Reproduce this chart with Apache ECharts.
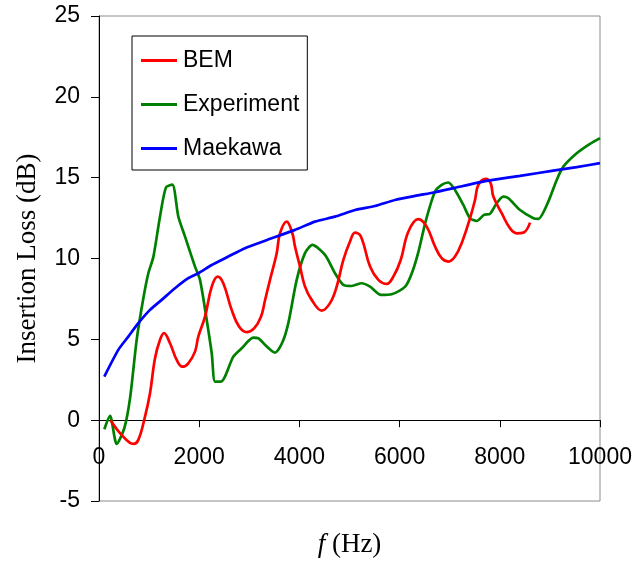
<!DOCTYPE html>
<html>
<head>
<meta charset="utf-8">
<script src="https://cdn.jsdelivr.net/npm/echarts@6/dist/echarts.min.js"></script>
<style>
html,body{margin:0;padding:0;background:#fff;}
#chart{width:635px;height:562px;}
</style>
</head>
<body>
<div id="chart"></div>
<script>
// Frequency (Hz) and insertion loss (dB) for each series
const bemFreq = [230,453,685,785,918,1018,1118,1218,1297,1417,1551,1663,1783,1916,1982,2116,2250,2369,2481,2648,2795,2948,3100,3233,3313,3413,3547,3613,3746,3859,3912,4012,4112,4245,4445,4611,4744,4877,5010,5110,5229,5410,5576,5743,5875,6022,6174,6374,6541,6707,6840,6972,7106,7239,7405,7505,7571,7718,7818,7871,8038,8204,8337,8471,8604];
const bemIL   = [0,-0.91,-1.47,-1.22,0.22,1.67,3.83,4.97,5.38,4.76,3.73,3.31,3.52,4.24,5.17,6.4,8.26,8.88,8.47,6.82,5.79,5.44,5.69,6.4,7.4,8.68,10.33,11.56,12.28,11.56,10.74,9.5,8.26,7.44,6.78,7.24,8.26,9.91,11.05,11.6,11.35,9.5,8.68,8.43,8.88,9.91,11.66,12.43,11.97,10.74,10.02,9.81,10.12,10.95,12.49,13.62,14.55,14.92,14.65,13.83,12.8,11.87,11.56,11.6,12.22];

const expFreq = [106,220,353,505,620,752,885,985,1085,1218,1337,1464,1583,1717,1916,2016,2150,2250,2316,2436,2681,2848,3080,3180,3313,3513,3659,3779,3946,4112,4258,4511,4711,4877,5044,5243,5410,5629,5842,6111,6244,6377,6520,6707,6840,6972,7106,7272,7405,7539,7685,7805,7938,8071,8171,8405,8671,8769,8968,9136,9268,9535,9800,10000];
const expIL   = [-0.56,0.27,-1.47,-0.5,1.36,4.97,7.54,9.09,10.1,12.6,14.4,14.57,12.6,11.35,9.5,8.68,6.2,4.14,2.39,2.39,3.93,4.45,5.1,5.07,4.66,4.18,4.8,6.0,8.68,10.33,10.84,10.22,9.09,8.37,8.3,8.47,8.26,7.75,7.79,8.26,9.09,10.43,12.3,14.14,14.55,14.7,14.24,13.31,12.49,12.32,12.7,12.76,13.42,13.83,13.73,13.0,12.49,12.45,13.52,14.86,15.68,16.51,17.09,17.45];

const maeFreq = [106,385,585,785,1018,1251,1517,1783,1982,2250,2581,2914,3313,3912,4311,4711,5110,5509,5908,6307,6707,7072,7738,8405,9069,9535,10000];
const maeIL   = [2.7,4.35,5.17,6.0,6.82,7.44,8.16,8.78,9.09,9.6,10.12,10.64,11.1,11.77,12.28,12.59,13.0,13.25,13.62,13.87,14.1,14.35,14.8,15.11,15.44,15.65,15.9];

const seriesNames = ['BEM','Experiment','Maekawa'];
const xTicks = {min:0, max:10000, interval:2000};
const yTicks = {min:-5, max:25, interval:5};

function zip(a,b){return a.map((v,i)=>[v,b[i]]);}

const sans = 'Liberation Sans, Arial, sans-serif';
const serif = 'Liberation Serif, Times New Roman, serif';

const chart = echarts.init(document.getElementById('chart'), null, {renderer:'canvas'});
chart.setOption({
  animation:false,
  backgroundColor:'#fff',
  grid:{left:99, right:35, top:16, bottom:61, show:true, borderColor:'#8c8c8c', borderWidth:1,
        backgroundColor:'transparent', containLabel:false, outerBoundsMode:'none'},
  legend:{
    orient:'vertical', left:132, top:36,
    data:seriesNames,
    itemWidth:36, itemHeight:14, itemGap:21,
    padding:[13,8,10,9],
    borderColor:'#000', borderWidth:1, backgroundColor:'#fff',
    textStyle:{fontFamily:sans, fontSize:23, color:'#000', padding:[0,0,0,1]},
    icon:'path://M0,5.5 L36,5.5 L36,8.5 L0,8.5 Z'
  },
  xAxis:{
    type:'value', min:xTicks.min, max:xTicks.max, interval:xTicks.interval,
    axisLine:{onZero:true, lineStyle:{color:'#000', width:1}},
    axisTick:{show:true, length:7, lineStyle:{color:'#000'}},
    axisLabel:{fontFamily:sans, fontSize:23, color:'#000', margin:-55, formatter:v=>String(v)},
    splitLine:{show:false},
    name:'{i|f} (Hz)', nameLocation:'middle', nameGap:30, nameMoveOverlap:false,
    nameTextStyle:{fontFamily:serif, fontSize:27, color:'#000',
      rich:{i:{fontFamily:serif, fontStyle:'italic', fontSize:27, color:'#000'}}}
  },
  yAxis:{
    type:'value', min:yTicks.min, max:yTicks.max, interval:yTicks.interval,
    axisLine:{show:true, lineStyle:{color:'#000', width:1}},
    axisTick:{show:true, length:8, lineStyle:{color:'#000'}},
    axisLabel:{fontFamily:sans, fontSize:23, color:'#000', margin:19, formatter:v=>String(v)},
    splitLine:{show:false},
    name:'Insertion Loss (dB)', nameLocation:'middle', nameGap:58,
    nameTextStyle:{fontFamily:serif, fontSize:27, color:'#000'}
  },
  series:[
    {name:seriesNames[0], type:'line', data:zip(bemFreq,bemIL), showSymbol:false, symbol:'none', smooth:0.4,
     lineStyle:{color:'#ff0000', width:2.7}, itemStyle:{color:'#ff0000'}, z:3},
    {name:seriesNames[1], type:'line', data:zip(expFreq,expIL), showSymbol:false, symbol:'none', smooth:0.25,
     lineStyle:{color:'#008000', width:2.7}, itemStyle:{color:'#008000'}, z:2},
    {name:seriesNames[2], type:'line', data:zip(maeFreq,maeIL), showSymbol:false, symbol:'none', smooth:0.2,
     lineStyle:{color:'#0000ff', width:2.7}, itemStyle:{color:'#0000ff'}, z:4}
  ]
});
</script>
</body>
</html>
